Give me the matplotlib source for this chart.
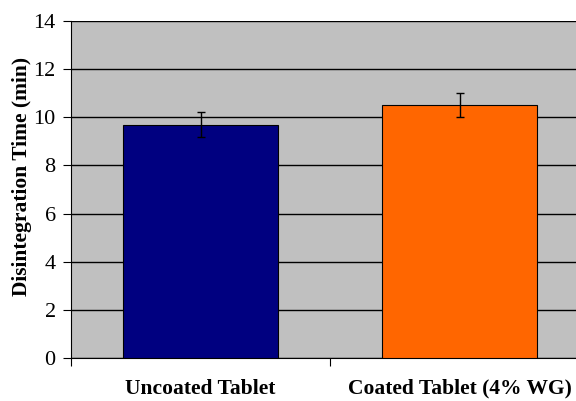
import matplotlib.pyplot as plt

# data
categories = ['Uncoated Tablet', 'Coated Tablet (4% WG)']
times = [9.7, 10.5]
errors = [0.5, 0.5]
colors = ['#000080', '#FF6600']

plt.rcParams['font.family'] = ['Liberation Serif', 'DejaVu Serif']

fig = plt.figure(figsize=(5.76, 4.01), dpi=100)
# axes runs past the right edge of the picture, like the original
ax = fig.add_axes([71 / 576, 43 / 401, 518 / 576, 337 / 401])
ax.set_facecolor('#C0C0C0')

x = range(len(categories))
ax.bar(x, times, width=0.595, color=colors, edgecolor='black', linewidth=0.8, zorder=3)
ax.errorbar(x, times, yerr=errors, fmt='none', ecolor='black', elinewidth=1,
            capsize=3, capthick=1, zorder=4)

ax.set_xlim(-0.5, 1.5)
ax.set_ylim(0, 14)
ax.set_yticks(range(0, 15, 2))
ax.yaxis.grid(True, color='black', linewidth=1, zorder=1)
ax.set_axisbelow(True)

# ticks at the category borders, labels centred under the bars
ax.set_xticks([-0.5, 0.5, 1.5])
ax.set_xticklabels([])
ax.set_xticks([0, 1], minor=True)
ax.set_xticklabels(categories, minor=True, fontsize=15.5, fontweight='bold')
ax.tick_params(axis='x', which='minor', length=0, pad=15)
ax.tick_params(axis='x', which='major', length=6, direction='out', color='black')
ax.tick_params(axis='y', length=6, direction='out', labelsize=16, pad=5)

for side in ['top', 'right']:
    ax.spines[side].set_visible(False)
ax.spines['left'].set_color('black')
ax.spines['bottom'].set_color('black')

ax.set_ylabel('Disintegration Time (min)', fontsize=15.5, fontweight='bold')
ax.yaxis.set_label_coords(-0.076, 0.54)

plt.savefig('out.png', dpi=100)
